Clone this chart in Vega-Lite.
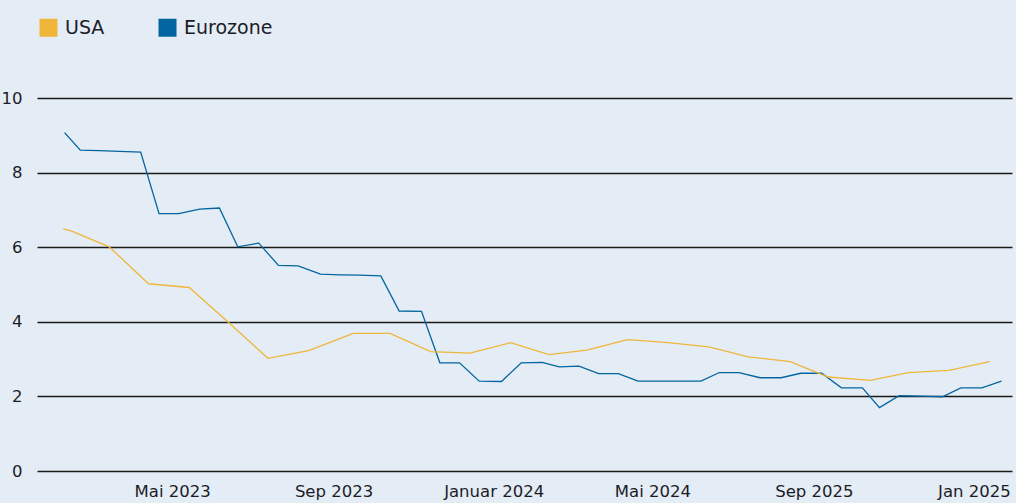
{
  "$schema": "https://vega.github.io/schema/vega-lite/v6.json",
  "width": 975,
  "height": 373,
  "autosize": "none",
  "padding": {"left": 37, "top": 98, "right": 4, "bottom": 32},
  "background": "#e4ecf5",
  "config": {
    "view": {"stroke": null},
    "font": "DejaVu Sans",
    "axis": {"labelFont": "DejaVu Sans", "labelColor": "#1c1c28", "labelFontSize": 16.5}
  },
  "data": {
    "values": [
      {"date": "2023-02-08", "region": "Eurozone", "value": 9.07},
      {"date": "2023-02-20", "region": "Eurozone", "value": 8.60},
      {"date": "2023-03-06", "region": "Eurozone", "value": 8.59},
      {"date": "2023-03-22", "region": "Eurozone", "value": 8.57},
      {"date": "2023-04-07", "region": "Eurozone", "value": 8.55},
      {"date": "2023-04-21", "region": "Eurozone", "value": 6.90},
      {"date": "2023-05-06", "region": "Eurozone", "value": 6.90},
      {"date": "2023-05-22", "region": "Eurozone", "value": 7.02},
      {"date": "2023-06-06", "region": "Eurozone", "value": 7.05},
      {"date": "2023-06-20", "region": "Eurozone", "value": 6.01},
      {"date": "2023-07-06", "region": "Eurozone", "value": 6.11},
      {"date": "2023-07-21", "region": "Eurozone", "value": 5.51},
      {"date": "2023-08-05", "region": "Eurozone", "value": 5.50},
      {"date": "2023-08-22", "region": "Eurozone", "value": 5.28},
      {"date": "2023-09-06", "region": "Eurozone", "value": 5.26},
      {"date": "2023-09-21", "region": "Eurozone", "value": 5.25},
      {"date": "2023-10-07", "region": "Eurozone", "value": 5.23},
      {"date": "2023-10-21", "region": "Eurozone", "value": 4.29},
      {"date": "2023-11-07", "region": "Eurozone", "value": 4.28},
      {"date": "2023-11-21", "region": "Eurozone", "value": 2.90},
      {"date": "2023-12-06", "region": "Eurozone", "value": 2.90},
      {"date": "2023-12-21", "region": "Eurozone", "value": 2.41},
      {"date": "2024-01-07", "region": "Eurozone", "value": 2.40},
      {"date": "2024-01-22", "region": "Eurozone", "value": 2.90},
      {"date": "2024-02-07", "region": "Eurozone", "value": 2.91},
      {"date": "2024-02-20", "region": "Eurozone", "value": 2.79},
      {"date": "2024-03-06", "region": "Eurozone", "value": 2.81},
      {"date": "2024-03-21", "region": "Eurozone", "value": 2.61},
      {"date": "2024-04-05", "region": "Eurozone", "value": 2.61},
      {"date": "2024-04-20", "region": "Eurozone", "value": 2.41},
      {"date": "2024-05-05", "region": "Eurozone", "value": 2.41},
      {"date": "2024-05-21", "region": "Eurozone", "value": 2.41},
      {"date": "2024-06-07", "region": "Eurozone", "value": 2.41},
      {"date": "2024-06-21", "region": "Eurozone", "value": 2.64},
      {"date": "2024-07-06", "region": "Eurozone", "value": 2.64},
      {"date": "2024-07-22", "region": "Eurozone", "value": 2.50},
      {"date": "2024-08-07", "region": "Eurozone", "value": 2.50},
      {"date": "2024-08-22", "region": "Eurozone", "value": 2.62},
      {"date": "2024-09-07", "region": "Eurozone", "value": 2.62},
      {"date": "2024-09-22", "region": "Eurozone", "value": 2.23},
      {"date": "2024-10-08", "region": "Eurozone", "value": 2.23},
      {"date": "2024-10-21", "region": "Eurozone", "value": 1.70},
      {"date": "2024-11-05", "region": "Eurozone", "value": 2.02},
      {"date": "2024-11-20", "region": "Eurozone", "value": 2.01},
      {"date": "2024-12-08", "region": "Eurozone", "value": 1.99},
      {"date": "2024-12-22", "region": "Eurozone", "value": 2.23},
      {"date": "2025-01-07", "region": "Eurozone", "value": 2.23},
      {"date": "2025-01-22", "region": "Eurozone", "value": 2.41},
      {"date": "2023-02-07", "region": "USA", "value": 6.49},
      {"date": "2023-02-13", "region": "USA", "value": 6.44},
      {"date": "2023-03-14", "region": "USA", "value": 6.01},
      {"date": "2023-04-13", "region": "USA", "value": 5.02},
      {"date": "2023-05-14", "region": "USA", "value": 4.92},
      {"date": "2023-06-13", "region": "USA", "value": 3.98},
      {"date": "2023-07-13", "region": "USA", "value": 3.02},
      {"date": "2023-08-13", "region": "USA", "value": 3.23},
      {"date": "2023-09-16", "region": "USA", "value": 3.69},
      {"date": "2023-10-14", "region": "USA", "value": 3.69},
      {"date": "2023-11-14", "region": "USA", "value": 3.20},
      {"date": "2023-12-14", "region": "USA", "value": 3.16},
      {"date": "2024-01-14", "region": "USA", "value": 3.44},
      {"date": "2024-02-12", "region": "USA", "value": 3.12},
      {"date": "2024-03-12", "region": "USA", "value": 3.24},
      {"date": "2024-04-12", "region": "USA", "value": 3.52},
      {"date": "2024-05-13", "region": "USA", "value": 3.44},
      {"date": "2024-06-13", "region": "USA", "value": 3.33},
      {"date": "2024-07-13", "region": "USA", "value": 3.06},
      {"date": "2024-08-14", "region": "USA", "value": 2.93},
      {"date": "2024-09-12", "region": "USA", "value": 2.52},
      {"date": "2024-10-14", "region": "USA", "value": 2.43},
      {"date": "2024-11-12", "region": "USA", "value": 2.64},
      {"date": "2024-12-13", "region": "USA", "value": 2.70},
      {"date": "2025-01-13", "region": "USA", "value": 2.93}
    ]
  },
  "mark": {"type": "line", "strokeWidth": 1.3},
  "encoding": {
    "x": {
      "field": "date",
      "type": "temporal",
      "scale": {"type": "utc", "domain": ["2023-01-18", "2025-01-30"]},
      "axis": {
        "title": null,
        "grid": false,
        "domain": false,
        "ticks": false,
        "tickSize": 0,
        "labelPadding": 12,
        "labelOverlap": false,
        "labelFlush": false,
        "values": [
          {"year": 2023, "month": 5, "date": 1, "utc": true},
          {"year": 2023, "month": 9, "date": 1, "utc": true},
          {"year": 2024, "month": 1, "date": 1, "utc": true},
          {"year": 2024, "month": 5, "date": 1, "utc": true},
          {"year": 2024, "month": 9, "date": 1, "utc": true},
          {"year": 2025, "month": 1, "date": 1, "utc": true}
        ],
        "labelExpr": "utcyear(datum.value)==2023 && utcmonth(datum.value)==4 ? 'Mai 2023' : utcyear(datum.value)==2023 ? 'Sep 2023' : utcyear(datum.value)==2024 && utcmonth(datum.value)==0 ? 'Januar 2024' : utcyear(datum.value)==2024 && utcmonth(datum.value)==4 ? 'Mai 2024' : utcyear(datum.value)==2024 ? 'Sep 2025' : 'Jan 2025'"
      }
    },
    "y": {
      "field": "value",
      "type": "quantitative",
      "scale": {"domain": [0, 10], "nice": false},
      "axis": {
        "title": null,
        "values": [0, 2, 4, 6, 8, 10],
        "domain": false,
        "ticks": false,
        "tickSize": 0,
        "labelPadding": 15,
        "grid": true,
        "gridColor": "#1a1a1a",
        "gridWidth": 1.3,
        "gridOpacity": 1
      }
    },
    "color": {
      "field": "region",
      "type": "nominal",
      "scale": {"domain": ["USA", "Eurozone"], "range": ["#efb63a", "#02659f"]},
      "legend": {
        "title": null,
        "orient": "none",
        "legendX": 2,
        "legendY": -80,
        "direction": "horizontal",
        "padding": 0,
        "symbolType": "square",
        "symbolSize": 324,
        "symbolStrokeWidth": 0,
        "symbolOpacity": 1,
        "labelFontSize": 19,
        "labelColor": "#1c1c28",
        "labelOffset": 7,
        "columnPadding": 53,
        "encode": {
          "symbols": {
            "update": {
              "fill": {"scale": "color", "field": "value"},
              "fillOpacity": {"value": 1},
              "strokeWidth": {"value": 0}
            }
          }
        }
      }
    }
  }
}
